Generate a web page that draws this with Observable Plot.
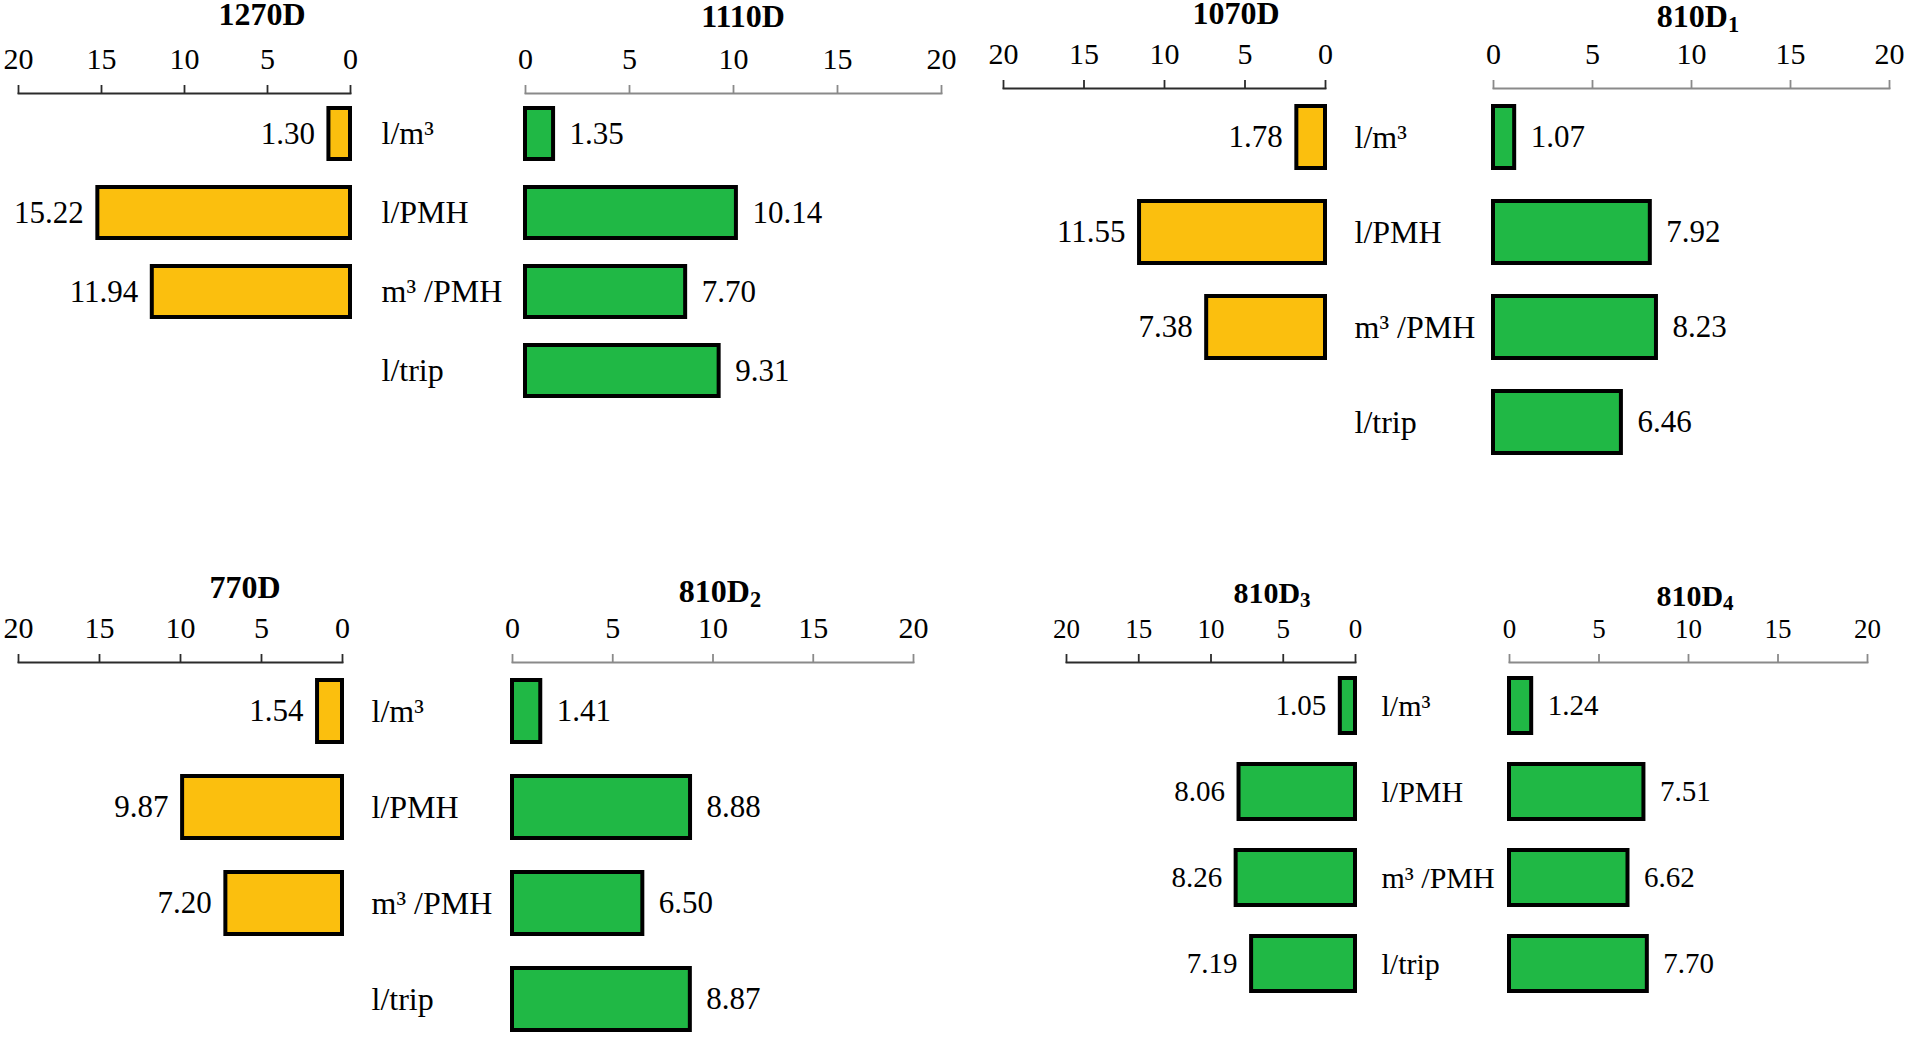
<!DOCTYPE html>
<html><head><meta charset="utf-8">
<script src="https://cdn.jsdelivr.net/npm/d3@7"></script>
<script src="https://cdn.jsdelivr.net/npm/@observablehq/plot@0.6"></script>
<style>
body{margin:0;background:#fff;}
#chart{position:relative;width:1905px;height:1037px;overflow:hidden;font-family:"Liberation Serif","Times New Roman",serif;background:#fff;}
#chart svg{position:absolute;overflow:visible;background:transparent;}
.title{position:absolute;font-weight:bold;transform:translateX(-50%);white-space:nowrap;line-height:1;color:#000;}
.title sub{font-size:0.7em;position:relative;top:0.2em;vertical-align:baseline;line-height:0;}
</style></head><body><div id="chart"></div>
<script>
// ---- data ----
const metrics = ["l/m³", "l/PMH", "m³ /PMH", "l/trip"];
const v1270D = [1.30, 15.22, 11.94];
const v1110D = [1.35, 10.14, 7.70, 9.31];
const v1070D = [1.78, 11.55, 7.38];
const v810D1 = [1.07, 7.92, 8.23, 6.46];
const v770D  = [1.54, 9.87, 7.20];
const v810D2 = [1.41, 8.88, 6.50, 8.87];
const v810D3 = [1.05, 8.06, 8.26, 7.19];
const v810D4 = [1.24, 7.51, 6.62, 7.70];
const xTicks = [0, 5, 10, 15, 20];
const xDomain = [0, 20];
const orange = "#FBBF0E", green = "#20B845";

// ---- layout (page pixels) ----
const rows = {
  tl: {c0: 132.5, step: 79.3, bw: 51},
  tr: {c0: 136.8, step: 95.3, bw: 62},
  bl: {c0: 710.3, step: 96.4, bw: 62.5},
  br: {c0: 705.3, step: 86.2, bw: 55}
};
const panels = [
  {name:"1270D", sub:"", values:v1270D, fill:orange, dir:"left",  zero:350, twenty:18,  axisY:93,  top:0,   L:0,    W:370, row:"tl", tx:262,  tb:25,  fs:31, tfs:32, tick:30, axis:"#2b2b2b"},
  {name:"1110D", sub:"", values:v1110D, fill:green,  dir:"right", zero:525, twenty:941, axisY:93,  top:0,   L:370,  W:590, row:"tl", tx:743,  tb:27,  fs:31, tfs:32, tick:30, axis:"#8a8a8a", labelX:381},
  {name:"1070D", sub:"", values:v1070D, fill:orange, dir:"left",  zero:1325, twenty:1003, axisY:88, top:0,   L:960,  W:385, row:"tr", tx:1236, tb:24,  fs:31, tfs:32, tick:30, axis:"#2b2b2b"},
  {name:"810D",  sub:"1", values:v810D1, fill:green, dir:"right", zero:1493, twenty:1889, axisY:88, top:0,   L:1345, W:560, row:"tr", tx:1698, tb:27,  fs:31, tfs:32, tick:30, axis:"#8a8a8a", labelX:1354},
  {name:"770D",  sub:"", values:v770D,  fill:orange, dir:"left",  zero:342, twenty:18,  axisY:662, top:560, L:0,    W:360, row:"bl", tx:245,  tb:598, fs:31, tfs:32, tick:30, axis:"#2b2b2b"},
  {name:"810D",  sub:"2", values:v810D2, fill:green, dir:"right", zero:512, twenty:913, axisY:662, top:560, L:360,  W:590, row:"bl", tx:720,  tb:602, fs:31, tfs:32, tick:30, axis:"#8a8a8a", labelX:371},
  {name:"810D",  sub:"3", values:v810D3, fill:green, dir:"left",  zero:1355, twenty:1066, axisY:662, top:560, L:1000, W:375, row:"br", tx:1272, tb:603, fs:29, tfs:30, tick:27, axis:"#2b2b2b"},
  {name:"810D",  sub:"4", values:v810D4, fill:green, dir:"right", zero:1509, twenty:1867, axisY:662, top:560, L:1375, W:530, row:"br", tx:1695, tb:606, fs:29, tfs:30, tick:27, axis:"#8a8a8a", labelX:1381}
];

const chart = document.getElementById("chart");
const font = '"Liberation Serif","Times New Roman",serif';

for (const p of panels) {
  const r = rows[p.row];
  const data = p.values.map((v, i) => ({metric: metrics[i], value: v}));
  const left = p.dir === "left";
  const axisLeftPx = left ? p.twenty : p.zero;
  const axisRightPx = left ? p.zero : p.twenty;
  const H = 477;
  const pad = 1 - r.bw / r.step;
  const y0 = r.c0 - r.step / 2 - p.top;
  const marks = [
    Plot.frame({anchor: "top", stroke: p.axis, strokeWidth: 1.8}),
    Plot.axisX({anchor: "top", label: null, ticks: xTicks, tickSize: 9, tickPadding: 16, stroke: p.axis, strokeWidth: 1.8, fill: "#000", fontSize: p.tick, tickFormat: d => String(d)}),
    Plot.barX(data, {x: "value", y: "metric", fill: p.fill, stroke: "#000", strokeWidth: 4}),
    Plot.text(data, {x: "value", y: "metric", text: d => d.value.toFixed(2), textAnchor: left ? "end" : "start", dx: left ? -14 : 16, fontSize: p.fs, fill: "#000"})
  ];
  if (!left) {
    marks.push(Plot.axisY({anchor: "left", label: null, tickSize: 0, tickPadding: p.zero - p.labelX, textAnchor: "start", fontSize: p.fs + 1, fill: "#000"}));
  }
  const svg = Plot.plot({
    width: p.W,
    height: H,
    marginLeft: axisLeftPx - p.L,
    marginRight: p.L + p.W - axisRightPx,
    marginTop: p.axisY - p.top,
    marginBottom: 0,
    style: {fontFamily: font, background: "transparent", overflow: "visible"},
    x: {domain: xDomain, reverse: left, axis: null, label: null},
    y: {domain: metrics, range: [y0, y0 + r.step * metrics.length], paddingInner: pad, paddingOuter: pad / 2, axis: null, label: null},
    marks
  });
  svg.style.left = p.L + "px";
  svg.style.top = p.top + "px";
  chart.appendChild(svg);

  const t = document.createElement("div");
  t.className = "title";
  t.style.fontSize = p.tfs + "px";
  t.style.left = p.tx + "px";
  t.style.top = (p.tb - 0.838 * p.tfs) + "px";
  t.innerHTML = p.name + (p.sub ? "<sub>" + p.sub + "</sub>" : "");
  chart.appendChild(t);
}
</script>
</body></html>
